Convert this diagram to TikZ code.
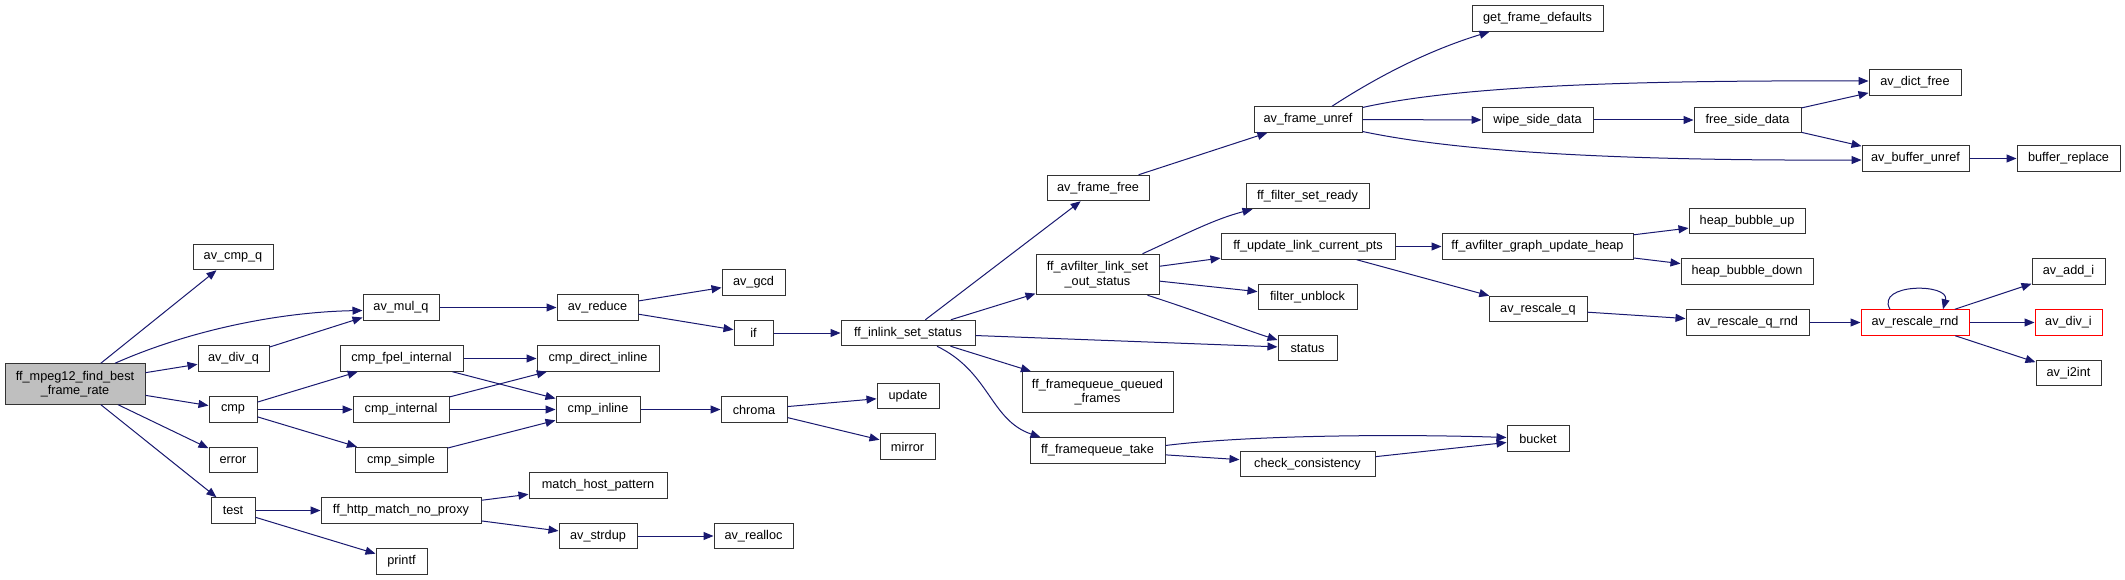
\documentclass[tikz,border=0pt]{standalone}
\usepackage{fontspec}
\setmainfont{Liberation Sans}
\usetikzlibrary{arrows.meta}
\definecolor{edgeblue}{HTML}{191970}
\definecolor{nodegray}{HTML}{BFBFBF}
\definecolor{boxline}{HTML}{333333}
\begin{document}
\begin{tikzpicture}[x=1pt,y=-1pt,
 fn/.style={draw=boxline, line width=1pt, fill=white, rectangle, inner sep=0pt, minimum height=25.5pt, font=\fontsize{12.7}{14.5}\selectfont, align=center},
 fntwo/.style={fn, minimum height=40.5pt},
 redfn/.style={fn, draw=red},
 call/.style={draw=edgeblue, line width=1pt, -{Triangle[length=10pt,width=8pt]}}
 ]
\fill[white] (0,0) rectangle (2125,580);
\useasboundingbox (0,0) rectangle (2125,580);

% column 0
\node[fntwo, fill=nodegray, minimum width=140pt] (main) at (75,384) {ff\_mpeg12\_find\_best\\\_frame\_rate};
% column 1
\node[fn, minimum width=80pt] (avcmpq) at (233,257) {av\_cmp\_q};
\node[fn, minimum width=71pt] (avdivq) at (233.5,358.5) {av\_div\_q};
\node[fn, minimum width=48pt] (cmp) at (233,409.5) {cmp};
\node[fn, minimum width=48pt] (error) at (233,460) {error};
\node[fn, minimum width=44pt] (test) at (233,510.5) {test};
% column 2
\node[fn, minimum width=76pt] (avmulq) at (401,307.5) {av\_mul\_q};
\node[fn, minimum width=123pt] (cmpfpel) at (401.5,358.5) {cmp\_fpel\_internal};
\node[fn, minimum width=96pt] (cmpinternal) at (401,409.5) {cmp\_internal};
\node[fn, minimum width=92pt] (cmpsimple) at (401,460) {cmp\_simple};
\node[fn, minimum width=160pt] (httpnoproxy) at (401,510.5) {ff\_http\_match\_no\_proxy};
\node[fn, minimum width=51pt] (printf) at (401.5,561.5) {printf};
% column 3
\node[fn, minimum width=81pt] (avreduce) at (597.5,307.5) {av\_reduce};
\node[fn, minimum width=122pt] (cmpdirect) at (598,358.5) {cmp\_direct\_inline};
\node[fn, minimum width=84pt] (cmpinline) at (598,409.5) {cmp\_inline};
\node[fn, minimum width=138pt] (matchhost) at (598,485.5) {match\_host\_pattern};
\node[fn, minimum width=78pt] (avstrdup) at (598,536) {av\_strdup};
% column 4
\node[fn, minimum width=63pt] (avgcd) at (753.5,282.5) {av\_gcd};
\node[fn, minimum width=39pt] (if) at (753.5,333) {if};
\node[fn, minimum width=66pt] (chroma) at (754,409.5) {chroma};
\node[fn, minimum width=79pt] (avrealloc) at (753.5,536) {av\_realloc};
% column 5
\node[fn, minimum width=134pt] (inlink) at (908,333) {ff\_inlink\_set\_status};
\node[fn, minimum width=62pt] (update) at (908,396) {update};
\node[fn, minimum width=55pt] (mirror) at (907.5,446.5) {mirror};
% column 6
\node[fn, minimum width=102pt] (framefree) at (1098,188) {av\_frame\_free};
\node[fntwo, minimum width=123pt] (linkout) at (1097.5,274.5) {ff\_avfilter\_link\_set\\\_out\_status};
\node[fntwo, minimum width=151pt] (queued) at (1097.5,392) {ff\_framequeue\_queued\\\_frames};
\node[fn, minimum width=135pt] (fqtake) at (1097.5,450.5) {ff\_framequeue\_take};
% column 7
\node[fn, minimum width=108pt] (frameunref) at (1308,119.5) {av\_frame\_unref};
\node[fn, minimum width=123pt] (setready) at (1307.5,196) {ff\_filter\_set\_ready};
\node[fn, minimum width=174pt] (updatepts) at (1308,246.5) {ff\_update\_link\_current\_pts};
\node[fn, minimum width=99pt] (unblock) at (1307.5,297) {filter\_unblock};
\node[fn, minimum width=59pt] (status) at (1307.5,348) {status};
\node[fn, minimum width=135pt] (consistency) at (1307.5,464) {check\_consistency};
% column 8
\node[fn, minimum width=131pt] (getdefaults) at (1537.5,18.5) {get\_frame\_defaults};
\node[fn, minimum width=111pt] (wipeside) at (1537.5,120) {wipe\_side\_data};
\node[fn, minimum width=191pt] (updateheap) at (1537.5,246.5) {ff\_avfilter\_graph\_update\_heap};
\node[fn, minimum width=98pt] (rescaleq) at (1538,309) {av\_rescale\_q};
\node[fn, minimum width=62pt] (bucket) at (1538,438.5) {bucket};
% column 9
\node[fn, minimum width=107pt] (freeside) at (1747.5,120) {free\_side\_data};
\node[fn, minimum width=116pt] (bubbleup) at (1747,221) {heap\_bubble\_up};
\node[fn, minimum width=132pt] (bubbledown) at (1747,271.5) {heap\_bubble\_down};
\node[fn, minimum width=123pt] (rescaleqrnd) at (1747.5,322.5) {av\_rescale\_q\_rnd};
% column 10
\node[fn, minimum width=92pt] (dictfree) at (1915,82.5) {av\_dict\_free};
\node[fn, minimum width=107pt] (bufunref) at (1915.5,158.5) {av\_buffer\_unref};
\node[redfn, minimum width=108pt] (rescalernd) at (1915,322.5) {av\_rescale\_rnd};
% column 11
\node[fn, minimum width=103pt] (bufreplace) at (2068.5,158.5) {buffer\_replace};
\node[fn, minimum width=73pt] (addi) at (2068.5,271.5) {av\_add\_i};
\node[redfn, minimum width=67pt] (divi) at (2068.5,322.5) {av\_div\_i};
\node[fn, minimum width=65pt] (i2int) at (2068.5,373) {av\_i2int};

% edges
\draw[call] (main) -- (avcmpq);
\draw[call] ([xshift=40pt]main.north) .. controls (190,330) and (280,312) .. ([yshift=-3pt]avmulq.west);
\draw[call] (main) -- (avdivq);
\draw[call] (main) -- (cmp);
\draw[call] (main) -- (error);
\draw[call] (main) -- (test);
\draw[call] (avdivq) -- ([yshift=-10pt]avmulq.west);
\draw[call] (avmulq) -- (avreduce);
\draw[call] (avreduce) -- (avgcd);
\draw[call] (avreduce) -- (if);
\draw[call] (if) -- (inlink);
\draw[call] (cmp) -- (cmpfpel);
\draw[call] (cmp) -- (cmpinternal);
\draw[call] (cmp) -- (cmpsimple);
\draw[call] (cmpfpel) -- (cmpdirect);
\draw[call] (cmpfpel) -- (cmpinline);
\draw[call] (cmpinternal) -- (cmpdirect);
\draw[call] (cmpinternal) -- (cmpinline);
\draw[call] (cmpsimple) -- (cmpinline);
\draw[call] (cmpinline) -- (chroma);
\draw[call] (chroma) -- (update);
\draw[call] (chroma) -- (mirror);
\draw[call] (test) -- (httpnoproxy);
\draw[call] (test) -- (printf);
\draw[call] (httpnoproxy) -- (matchhost);
\draw[call] (httpnoproxy) -- (avstrdup);
\draw[call] (avstrdup) -- (avrealloc);

\draw[call] (inlink) -- (framefree);
\draw[call] (inlink) -- (linkout);
\draw[call] (inlink) -- (status);
\draw[call] (inlink) -- (queued);
\draw[call] ([xshift=29pt]inlink.south) .. controls (990,372) and (990,420) .. ([xshift=-57pt]fqtake.north);
\draw[call] (framefree) -- (frameunref);
\draw[call] ([xshift=24pt]frameunref.north) .. controls (1380,75) and (1430,50) .. ([xshift=-48pt]getdefaults.south);
\draw[call] ([yshift=12pt]frameunref.east) .. controls (1450,88) and (1600,80) .. ([yshift=1.5pt]dictfree.west);
\draw[call] (frameunref) -- (wipeside);
\draw[call] ([yshift=-12pt]frameunref.east) .. controls (1450,150) and (1600,161) .. ([yshift=-1.5pt]bufunref.west);
\draw[call] (wipeside) -- (freeside);
\draw[call] (freeside) -- (dictfree);
\draw[call] (freeside) -- (bufunref);
\draw[call] (bufunref) -- (bufreplace);

\draw[call] ([xshift=45pt]linkout.north) .. controls (1190,232) and (1215,219) .. ([xshift=-55pt]setready.south);
\draw[call] (linkout) -- (updatepts);
\draw[call] (linkout) -- (unblock);
\draw[call] ([xshift=50pt]linkout.south) .. controls (1200,312) and (1240,328) .. ([yshift=8pt]status.west);
\draw[call] (updatepts) -- (updateheap);
\draw[call] (updatepts) -- (rescaleq);
\draw[call] (updateheap) -- (bubbleup);
\draw[call] (updateheap) -- (bubbledown);
\draw[call] (rescaleq) -- (rescaleqrnd);
\draw[call] (rescaleqrnd) -- (rescalernd);
\draw[call] ([xshift=-25pt]rescalernd.north) .. controls (1875,283) and (1950,283) .. ([xshift=28pt]rescalernd.north);
\draw[call] (rescalernd) -- (addi);
\draw[call] (rescalernd) -- (divi);
\draw[call] (rescalernd) -- (i2int);

\draw[call] ([yshift=5pt]fqtake.east) .. controls (1250,435) and (1400,434) .. ([yshift=1pt]bucket.west);
\draw[call] (fqtake) -- (consistency);
\draw[call] (consistency) -- ([yshift=-4pt]bucket.west);
\end{tikzpicture}
\end{document}
